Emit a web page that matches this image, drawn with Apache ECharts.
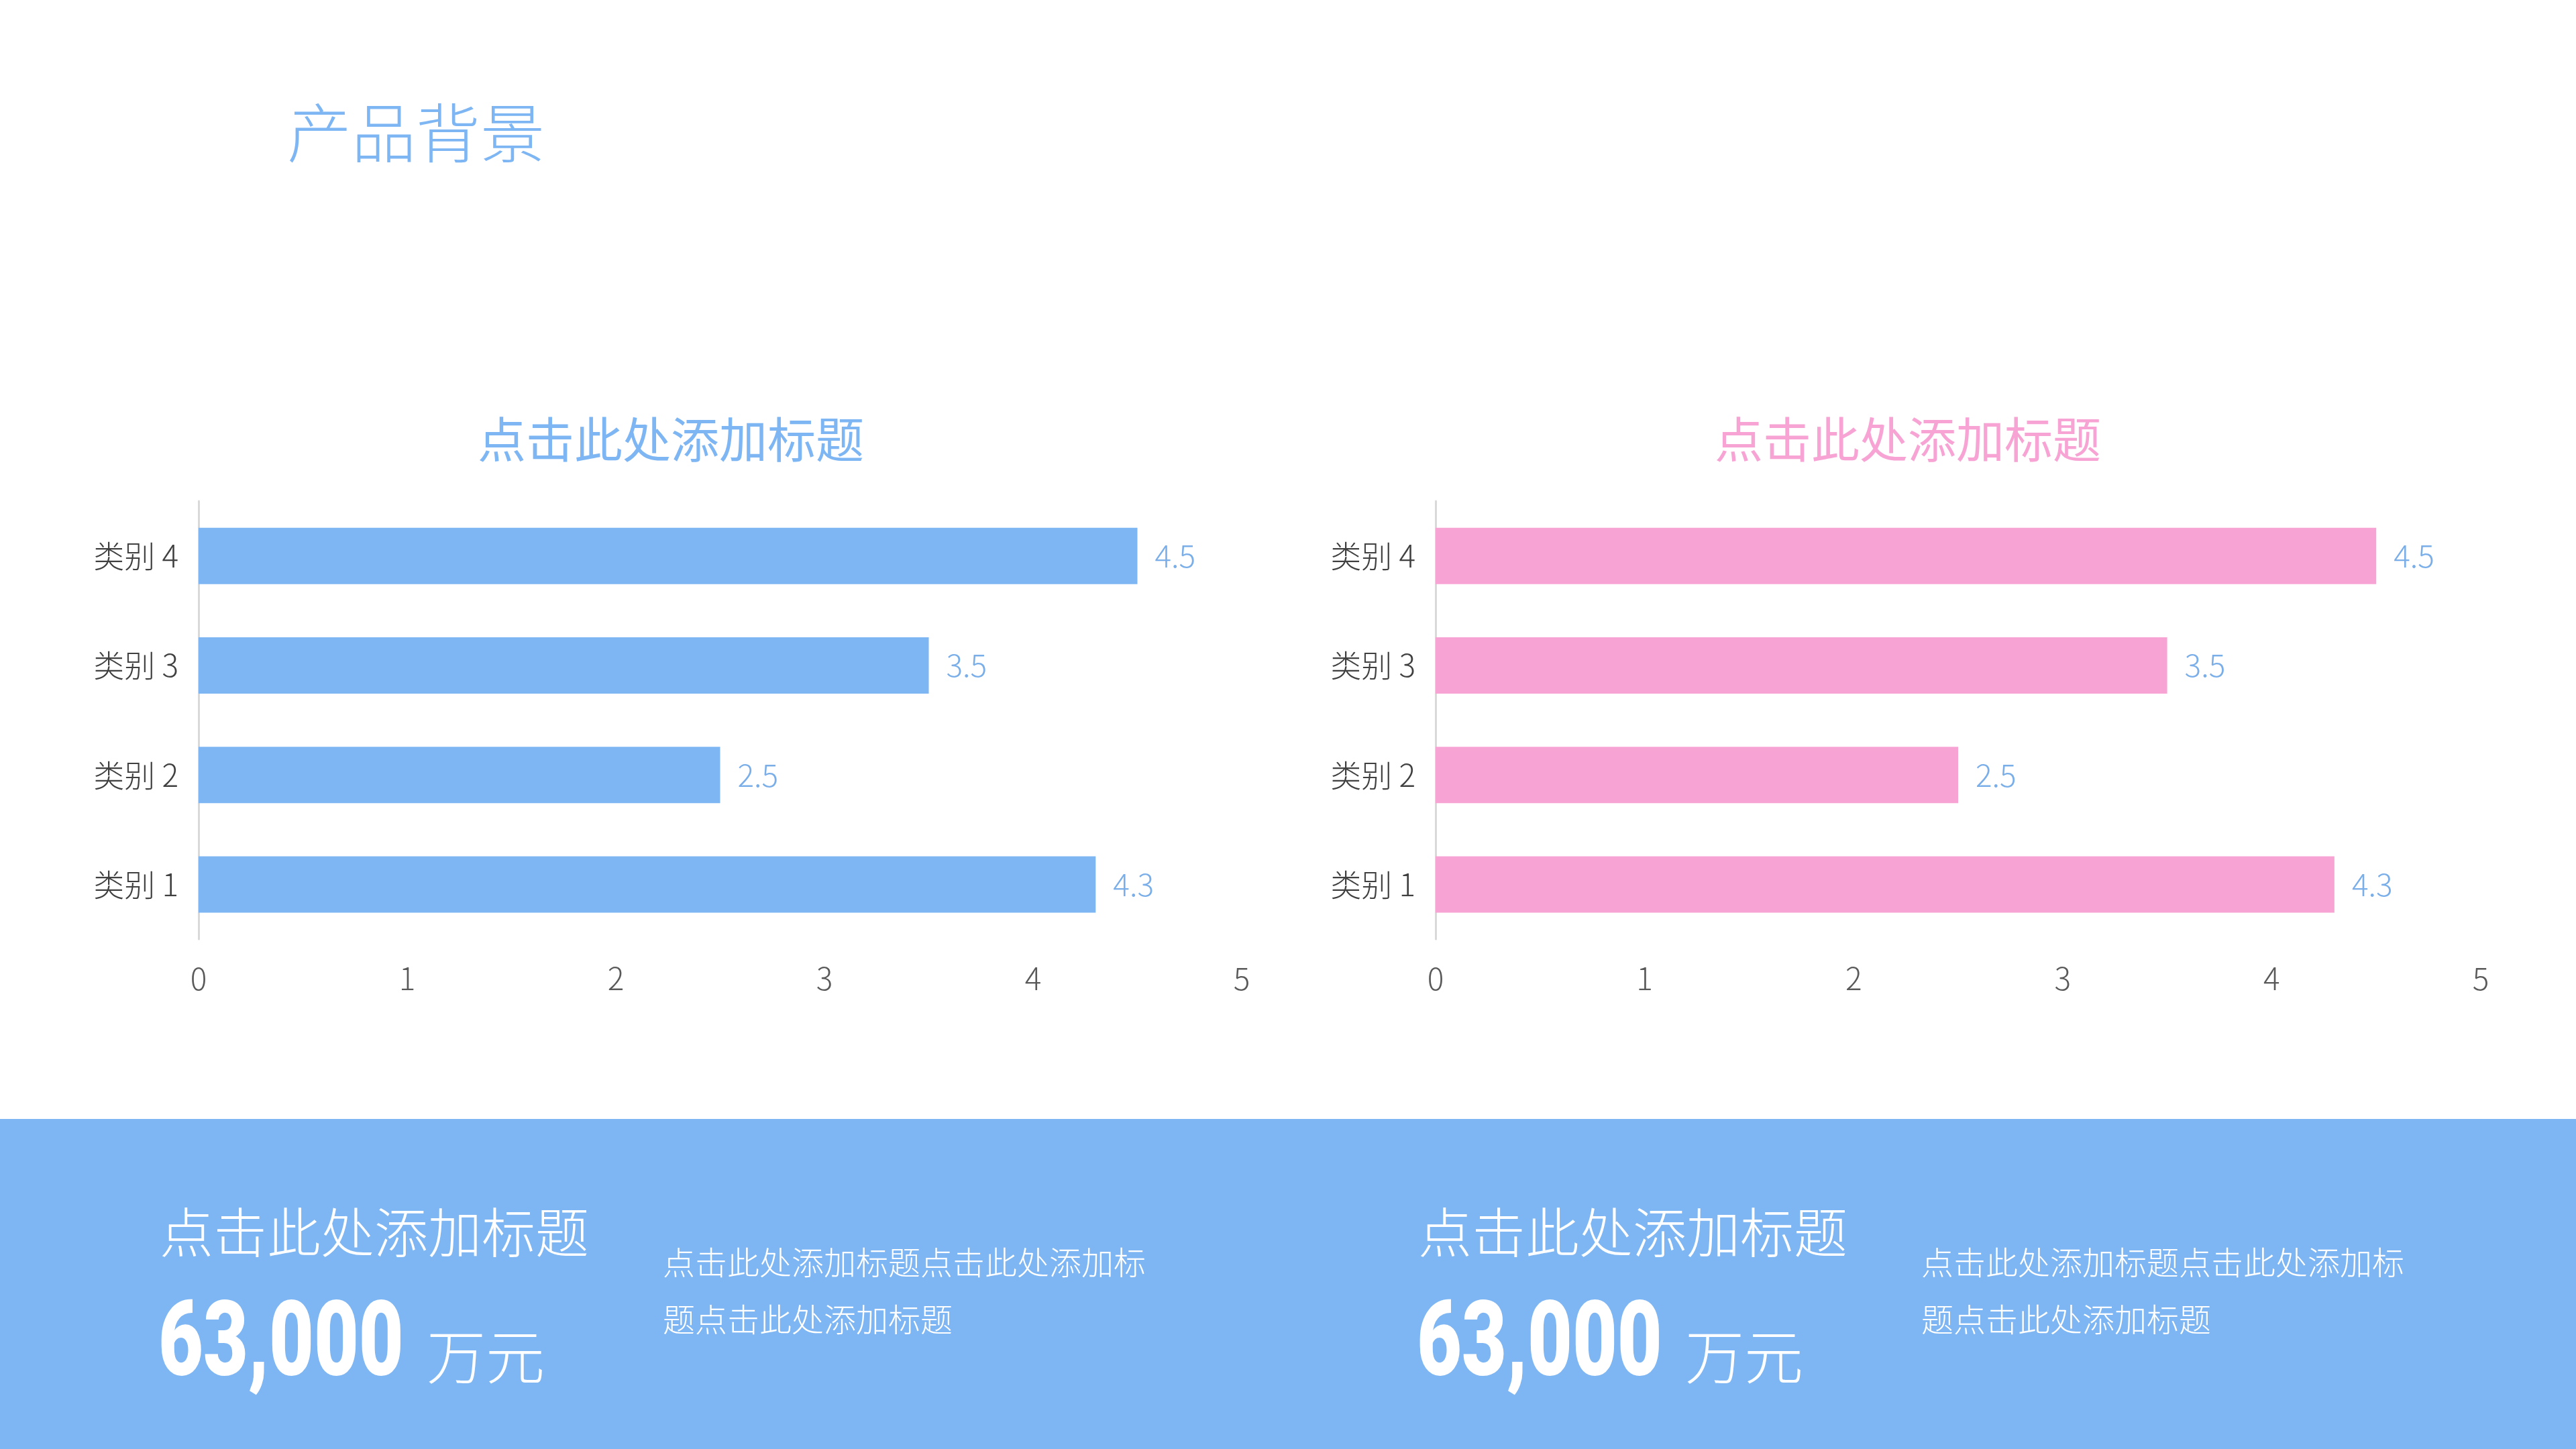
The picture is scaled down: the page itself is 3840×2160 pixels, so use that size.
<!DOCTYPE html>
<html>
<head>
<meta charset="utf-8">
<style>
html,body{margin:0;padding:0;background:#ffffff;}
#chart{width:3840px;height:2160px;}
</style>
<script src="https://cdn.jsdelivr.net/npm/echarts@6/dist/echarts.min.js"></script>
</head>
<body>
<div id="chart"></div>
<script>
// ---- data ----
const categories = ['类别 1', '类别 2', '类别 3', '类别 4'];
const leftValues = [4.3, 2.5, 3.5, 4.5];
const rightValues = [4.3, 2.5, 3.5, 4.5];
const xTickMin = 0;
const xTickMax = 5;
const xTickStep = 1;
const pageTitle = '产品背景';
const chartTitleLeft = '点击此处添加标题';
const chartTitleRight = '点击此处添加标题';
const panelTitle = '点击此处添加标题';
const panelNumber = '63,000';
const panelUnit = '万元';
const panelTextLine1 = '点击此处添加标题点击此处添加标';
const panelTextLine2 = '题点击此处添加标题';

const FONT = '"Noto Sans CJK SC", "Noto Sans", sans-serif';
const BLUE = '#7EB6F4';
const PINK = '#F7A4D4';
const LABEL_BLUE = '#7AAEE9';

const chart = echarts.init(document.getElementById('chart'), null, {renderer: 'canvas'});

function xAxisCfg(gi) {
  return {
    type: 'value', gridIndex: gi, min: xTickMin, max: xTickMax, interval: xTickStep,
    axisLine: {show: false}, axisTick: {show: false}, splitLine: {show: false},
    axisLabel: {color: '#595959', fontSize: 46, fontFamily: FONT, fontWeight: 300, margin: 36}
  };
}
function yAxisCfg(gi) {
  return {
    type: 'category', gridIndex: gi, data: categories,
    axisLine: {show: true, lineStyle: {color: '#D9D9D9', width: 3}},
    axisTick: {show: false},
    axisLabel: {color: '#404040', fontSize: 46, fontFamily: FONT, fontWeight: 300, margin: 30}
  };
}
function barSeries(gi, values, color) {
  return {
    type: 'bar', xAxisIndex: gi, yAxisIndex: gi, data: values, barWidth: 84,
    itemStyle: {color: color},
    label: {show: true, position: 'right', distance: 26, color: LABEL_BLUE,
            fontSize: 46, fontFamily: FONT, fontWeight: 300},
    silent: true
  };
}

const px = 1876; // horizontal offset of right-hand panel block
function panelBlock(dx) {
  return [
    {type: 'text', x: 238 + dx, y: 1837,
     style: {text: panelTitle, fill: '#ffffff', font: '300 80px ' + FONT, align: 'left', verticalAlign: 'middle'}},
    {type: 'text', x: 236 + dx, y: 2010, scaleX: 0.745,
     style: {text: panelNumber, fill: '#ffffff', font: '900 155px Roboto, sans-serif', align: 'left', verticalAlign: 'middle'}},
    {type: 'text', x: 636 + dx, y: 2022,
     style: {text: panelUnit, fill: '#ffffff', font: '300 88px ' + FONT, align: 'left', verticalAlign: 'middle'}},
    {type: 'text', x: 988 + dx, y: 1882,
     style: {text: panelTextLine1, fill: '#ffffff', font: '300 48px ' + FONT, align: 'left', verticalAlign: 'middle'}},
    {type: 'text', x: 988 + dx, y: 1967,
     style: {text: panelTextLine2, fill: '#ffffff', font: '300 48px ' + FONT, align: 'left', verticalAlign: 'middle'}}
  ];
}

chart.setOption({
  backgroundColor: '#ffffff',
  animation: false,
  title: [
    {text: chartTitleLeft, left: 995, top: 650, textAlign: 'center', textVerticalAlign: 'middle',
     textStyle: {color: BLUE, fontSize: 72, fontFamily: FONT, fontWeight: 400}},
    {text: chartTitleRight, left: 2839, top: 650, textAlign: 'center', textVerticalAlign: 'middle',
     textStyle: {color: PINK, fontSize: 72, fontFamily: FONT, fontWeight: 400}}
  ],
  grid: [
    {left: 296, top: 747, width: 1555, height: 653, containLabel: false},
    {left: 2140, top: 747, width: 1558, height: 653, containLabel: false}
  ],
  xAxis: [xAxisCfg(0), xAxisCfg(1)],
  yAxis: [yAxisCfg(0), yAxisCfg(1)],
  series: [barSeries(0, leftValues, BLUE), barSeries(1, rightValues, PINK)],
  graphic: [
    {type: 'text', x: 428, y: 198,
     style: {text: pageTitle, fill: BLUE, font: '300 96px ' + FONT, align: 'left', verticalAlign: 'middle'}},
    {type: 'rect', x: 0, y: 1668, shape: {width: 3840, height: 492}, style: {fill: BLUE}, z: -1}
  ].concat(panelBlock(0), panelBlock(px))
});
</script>
</body>
</html>
